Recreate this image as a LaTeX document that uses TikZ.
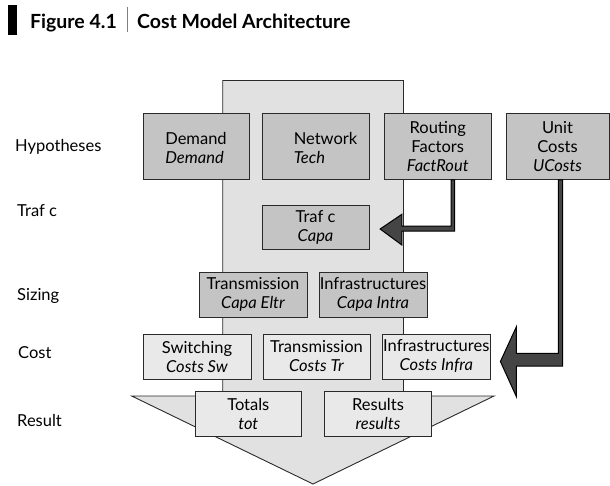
\documentclass[tikz,border=0pt]{standalone}
\usepackage{fontspec}
\setmainfont{Lato}
\usetikzlibrary{calc}
\definecolor{bgarrow}{HTML}{E1E1E1}
\definecolor{darkfill}{HTML}{C4C4C4}
\definecolor{lightfill}{HTML}{E9E9E9}
\definecolor{edgecol}{HTML}{2A2A2A}
\definecolor{arrowfill}{HTML}{454545}
\newcommand{\lowertext}[1]{\raisebox{-4pt}[\height][\depth]{\begin{tabular}{@{}l@{}}#1\end{tabular}}}
\begin{document}
\begin{tikzpicture}[x=1pt,y=-1pt,
  boxbase/.style={draw=edgecol, line width=0.9pt, inner sep=0pt, align=center,
    font=\fontsize{16.5}{19}\selectfont},
  hbox/.style={boxbase, fill=darkfill},
  lbox/.style={boxbase, fill=lightfill},
  rowlabel/.style={anchor=base west, inner sep=0pt, font=\fontsize{16.5}{19}\selectfont},
  titletext/.style={anchor=base west, inner sep=0pt, font=\fontsize{19.5}{22}\selectfont\bfseries},
  blockarrow/.style={draw=black, fill=arrowfill, line width=1pt, line join=miter}
]
\useasboundingbox (0,0) rectangle (610,485);

% header
\fill[black] (8,5) rectangle (17,35);
\node[titletext] (fig) at (30,28.3) {Figure 4.1};
\draw[gray, line width=0.7pt] (127,7) -- (127,32);
\node[titletext] (title) at (137,28.3) {Cost Model Architecture};

% background arrow
\draw[draw=edgecol, fill=bgarrow, line width=0.9pt]
  (222.7,80.5) -- (403.5,80.5) -- (403.5,396) -- (494,396) -- (313,484)
  -- (131.7,396) -- (222.7,396) -- cycle;

% row labels
\node[rowlabel] (lhyp) at (15,151.7) {Hypotheses};
\node[rowlabel] (ltraf) at (17,216.7) {Traf c};
\node[rowlabel] (lsize) at (17,300) {Sizing};
\node[rowlabel] (lcost) at (18,358.3) {Cost};
\node[rowlabel] (lres) at (17,426) {Result};

% hypotheses
\node[hbox, minimum width=106pt, minimum height=66pt] (demand) at (196,146.5)
  {\lowertext{Demand\\\textit{Demand}}};
\node[hbox, minimum width=107pt, minimum height=66pt] (network) at (315.5,146.5)
  {\hspace*{20pt}\lowertext{Network\\\textit{Tech}}};
\node[hbox, minimum width=107.5pt, minimum height=66pt] (routing) at (437.75,146.5) {Routing\\Factors\\\textit{FactRout}};
\node[hbox, minimum width=103pt, minimum height=66pt] (unit) at (557.5,146.5) {Unit\\Costs\\\textit{UCosts}};

% traffic
\node[hbox, minimum width=107pt, minimum height=44pt] (traffic) at (315.5,227) {Traf c\\\textit{Capa}};

% sizing
\node[hbox, minimum width=108pt, minimum height=45pt] (capaeltr) at (253,294.5) {Transmission\\\textit{Capa Eltr}};
\node[hbox, minimum width=108pt, minimum height=45pt] (capaintra) at (373,294.5) {Infrastructures\\\textit{Capa Intra}};

% cost
\node[lbox, minimum width=108pt, minimum height=45pt] (costsw) at (197,356.5) {Switching\\\textit{Costs Sw}};
\node[lbox, minimum width=107pt, minimum height=45pt] (coststr) at (316.5,356.5) {Transmission\\\textit{Costs Tr}};
\node[lbox, minimum width=107.3pt, minimum height=45pt] (costinfra) at (436.3,356.5) {Infrastructures\\\textit{Costs Infra}};

% result
\node[lbox, minimum width=106.7pt, minimum height=45pt] (totals) at (248.3,413.5) {Totals\\\textit{tot}};
\node[lbox, minimum width=107.4pt, minimum height=45pt] (results) at (378,413.5) {Results\\\textit{results}};

% arrow routing -> traffic
\coordinate (ra) at ($(routing.south)+(13.25,0)$);
\coordinate (rb) at ($(routing.south)+(16.75,0)$);
\coordinate (ta) at ($(traffic.east)+(0,-1)$);
\coordinate (tb) at ($(traffic.east)+(0,4)$);
\draw[blockarrow] (ra) -- (rb) -- (rb |- tb) -- ($(traffic.east)+(32.4,4)$)
  -- ($(traffic.east)+(32.4,18)$) -- ($(traffic.east)+(10.7,2)$)
  -- ($(traffic.east)+(32.4,-12.7)$) -- ($(traffic.east)+(32.4,-1)$)
  -- (ra |- ta) -- cycle;

% arrow unit -> costinfra
\coordinate (ua) at ($(unit.south)+(0.8,0)$);
\coordinate (ub) at ($(unit.south)+(5.2,0)$);
\coordinate (ca) at ($(costinfra.east)+(0,-3.2)$);
\coordinate (cb) at ($(costinfra.east)+(0,9.5)$);
\draw[blockarrow] (ua) -- (ub) -- (ub |- cb) -- ($(costinfra.east)+(26,9.5)$)
  -- ($(costinfra.east)+(26,40.2)$) -- ($(costinfra.east)+(10,5)$)
  -- ($(costinfra.east)+(26,-29.8)$) -- ($(costinfra.east)+(26,-3.2)$)
  -- (ua |- ca) -- cycle;
\end{tikzpicture}
\end{document}
